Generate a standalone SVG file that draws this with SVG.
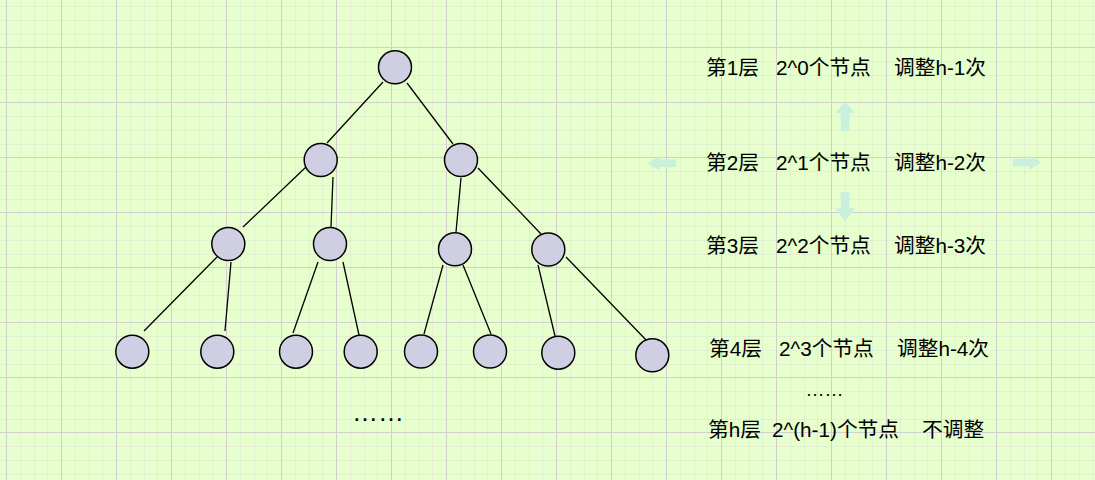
<svg xmlns="http://www.w3.org/2000/svg" width="1095" height="480" viewBox="0 0 1095 480">
<style>
.minor{stroke:#d0d0d0;stroke-opacity:0.3;stroke-width:1;fill:none}
.major{stroke:#d0d0d0;stroke-width:1;fill:none}
.node{fill:#d0cee2;stroke:#000;stroke-width:1.5}
.edge{stroke:#000;stroke-width:1.3;fill:none}
.lbl{font-family:"Liberation Sans","Noto Sans CJK SC",sans-serif;font-size:20.7px;fill:#000}
.dots{font-family:"Liberation Sans",sans-serif;fill:#000}
.arrow{fill:#c8f0dc}
</style>
<rect width="1095" height="480" fill="#e6ffcc"/>
<g id="grid">
<path class="minor" d="M20.5 0V480M34.5 0V480M47.5 0V480M75.5 0V480M89.5 0V480M102.5 0V480M130.5 0V480M144.5 0V480M157.5 0V480M185.5 0V480M199.5 0V480M212.5 0V480M240.5 0V480M254.5 0V480M267.5 0V480M295.5 0V480M309.5 0V480M322.5 0V480M350.5 0V480M364.5 0V480M377.5 0V480M405.5 0V480M419.5 0V480M432.5 0V480M460.5 0V480M474.5 0V480M487.5 0V480M515.5 0V480M529.5 0V480M542.5 0V480M570.5 0V480M584.5 0V480M597.5 0V480M625.5 0V480M639.5 0V480M652.5 0V480M680.5 0V480M694.5 0V480M707.5 0V480M735.5 0V480M749.5 0V480M762.5 0V480M790.5 0V480M804.5 0V480M817.5 0V480M845.5 0V480M859.5 0V480M872.5 0V480M900.5 0V480M914.5 0V480M927.5 0V480M955.5 0V480M969.5 0V480M982.5 0V480M1010.5 0V480M1024.5 0V480M1037.5 0V480M1065.5 0V480M1079.5 0V480M1092.5 0V480
M0 6.5H1095M0 20.5H1095M0 34.5H1095M0 61.5H1095M0 75.5H1095M0 89.5H1095M0 116.5H1095M0 130.5H1095M0 144.5H1095M0 171.5H1095M0 185.5H1095M0 199.5H1095M0 226.5H1095M0 240.5H1095M0 254.5H1095M0 281.5H1095M0 295.5H1095M0 309.5H1095M0 336.5H1095M0 350.5H1095M0 364.5H1095M0 391.5H1095M0 405.5H1095M0 419.5H1095M0 446.5H1095M0 460.5H1095M0 474.5H1095"/>
<path class="major" d="M6.5 0V480M61.5 0V480M116.5 0V480M171.5 0V480M226.5 0V480M281.5 0V480M336.5 0V480M391.5 0V480M446.5 0V480M501.5 0V480M556.5 0V480M611.5 0V480M666.5 0V480M721.5 0V480M776.5 0V480M831.5 0V480M886.5 0V480M941.5 0V480M996.5 0V480M1051.5 0V480
M0 47.5H1095M0 102.5H1095M0 157.5H1095M0 212.5H1095M0 267.5H1095M0 322.5H1095M0 377.5H1095M0 432.5H1095"/>
</g>
<g id="connectors">
<line class="edge" x1="383" y1="82" x2="327" y2="143"/>
<line class="edge" x1="407" y1="83" x2="453" y2="144"/>
<line class="edge" x1="306" y1="167" x2="243" y2="227"/>
<line class="edge" x1="333" y1="177" x2="331" y2="227"/>
<line class="edge" x1="461" y1="178" x2="456" y2="232"/>
<line class="edge" x1="478" y1="168" x2="541" y2="234"/>
<line class="edge" x1="217" y1="257" x2="144" y2="331"/>
<line class="edge" x1="231" y1="262" x2="225" y2="331"/>
<line class="edge" x1="318" y1="262" x2="293" y2="333"/>
<line class="edge" x1="343" y1="262" x2="359" y2="335"/>
<line class="edge" x1="443" y1="265" x2="424" y2="334"/>
<line class="edge" x1="463" y1="265" x2="491" y2="334"/>
<line class="edge" x1="538" y1="265" x2="555" y2="336"/>
<line class="edge" x1="566" y1="257" x2="648" y2="342"/>
</g>
<g id="n1"><circle class="node" cx="395" cy="67.3" r="16.5"/></g>
<g id="n2"><circle class="node" cx="320.7" cy="160" r="16.5"/></g>
<g id="n3"><circle class="node" cx="461" cy="160" r="16.5"/></g>
<g id="n4"><circle class="node" cx="228.3" cy="244" r="16.5"/></g>
<g id="n5"><circle class="node" cx="330" cy="244" r="16.5"/></g>
<g id="n6"><circle class="node" cx="455" cy="249.3" r="16.5"/></g>
<g id="n7"><circle class="node" cx="548.3" cy="249.5" r="16.5"/></g>
<g id="n8"><circle class="node" cx="132.3" cy="351.7" r="16.5"/></g>
<g id="n9"><circle class="node" cx="217.3" cy="351.7" r="16.5"/></g>
<g id="n10"><circle class="node" cx="296" cy="351.7" r="16.5"/></g>
<g id="n11"><circle class="node" cx="360.7" cy="351.7" r="16.5"/></g>
<g id="n12"><circle class="node" cx="421" cy="351.5" r="16.5"/></g>
<g id="n13"><circle class="node" cx="490" cy="351.5" r="16.5"/></g>
<g id="n14"><circle class="node" cx="558.3" cy="352.7" r="16.5"/></g>
<g id="n15"><circle class="node" cx="652.3" cy="355.3" r="16.5"/></g>
<g id="ellipsis-tree"><text class="dots" x="352" y="421" font-size="26">……</text></g>
<g id="arrows">
<path class="arrow" d="M845 101.7L855 113.3H849.3V130.7H840.7V113.3H835Z"/>
<path class="arrow" d="M845 221.7L855 208.3H849.3V192.3H840.7V208.3H835Z"/>
<path class="arrow" d="M647.3 163.3L660 156.3V159.6H676V167H660V170.3Z"/>
<path class="arrow" d="M1041.7 162.5L1029.3 155.3V158.8H1012.7V166.2H1029.3V169.7Z"/>
</g>
<g id="labels">
<text class="lbl" y="75"><tspan x="706">第1层</tspan><tspan x="776">2^0个节点</tspan><tspan x="894">调整h-1次</tspan></text>
<text class="lbl" y="170"><tspan x="706">第2层</tspan><tspan x="776">2^1个节点</tspan><tspan x="894">调整h-2次</tspan></text>
<text class="lbl" y="253"><tspan x="706">第3层</tspan><tspan x="776">2^2个节点</tspan><tspan x="894">调整h-3次</tspan></text>
<text class="lbl" y="356"><tspan x="709">第4层</tspan><tspan x="779">2^3个节点</tspan><tspan x="897">调整h-4次</tspan></text>
<text class="dots" x="805.5" y="395.5" font-size="19">……</text>
<text class="lbl" y="437"><tspan x="708">第h层</tspan><tspan x="772">2^(h-1)个节点</tspan><tspan x="922">不调整</tspan></text>
</g>
</svg>
